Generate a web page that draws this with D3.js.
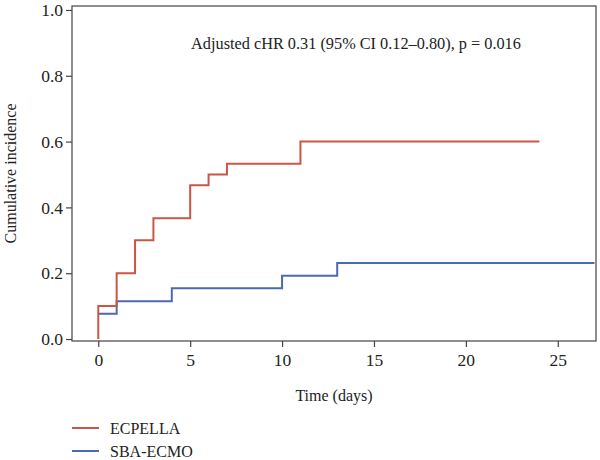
<!DOCTYPE html>
<html>
<head>
<meta charset="utf-8">
<script src="https://cdn.jsdelivr.net/npm/d3@7"></script>
<style>
  body { margin: 0; background: #fff; }
</style>
</head>
<body>
<svg></svg>
<script>
const width = 600
const height = 460

// cumulative incidence, step changes (days)
const ecpellaDays = [0, 0, 1, 2, 3, 5, 6, 7, 11, 24]
const ecpellaInc = [0, 0.1, 0.2, 0.3, 0.367, 0.467, 0.5, 0.533, 0.6, 0.6]
const sbaDays = [0, 1, 4, 10, 13, 27]
const sbaInc = [0.077, 0.115, 0.154, 0.192, 0.231, 0.231]

const xTicks = [0, 5, 10, 15, 20, 25]
const yTicks = [0, 0.2, 0.4, 0.6, 0.8, 1.0]
const groups = ["ECPELLA", "SBA-ECMO"]
const colors = ["#cc5646", "#4c6ab2"]
const note = "Adjusted cHR 0.31 (95% CI 0.12\u20130.80), p = 0.016"

const serif = "Liberation Serif"
const box = {left: 72, right: 596, top: 6, bottom: 341}

const svg = d3.select('svg')
  .attr('width', width)
  .attr('height', height)
  .attr("font-family", serif)

const x = d3.scaleLinear().domain([-1.43, 27.08]).range([box.left, box.right])
const y = d3.scaleLinear().domain([-0.006, 1.012]).range([box.bottom, box.top])

const axisColor = "#444"

// frame
svg.append("rect")
  .attr("x", box.left)
  .attr("y", box.top)
  .attr("width", box.right - box.left)
  .attr("height", box.bottom - box.top)
  .attr("fill", "none")
  .attr("stroke", axisColor)
  .attr("stroke-width", 1.2)

const xAxis = svg.append("g")
  .attr("transform", `translate(0,${box.bottom})`)
  .call(d3.axisBottom(x).tickValues(xTicks).tickSize(6).tickPadding(7).tickSizeOuter(0))
  .attr("font-family", serif)
  .attr("font-size", 17.5)
xAxis.select(".domain").remove()

const yAxis = svg.append("g")
  .attr("transform", `translate(${box.left},0)`)
  .call(d3.axisLeft(y).tickValues(yTicks).tickFormat(d3.format(".1f")).tickSize(6).tickPadding(3).tickSizeOuter(0))
  .attr("font-family", serif)
  .attr("font-size", 17.5)
yAxis.select(".domain").remove()

svg.selectAll(".tick line").attr("stroke", axisColor).attr("stroke-width", 1.2)
svg.selectAll(".tick text").attr("fill", "#222")

// axis titles
svg.append("text")
  .attr("x", (box.left + box.right) / 2)
  .attr("y", 401)
  .attr("text-anchor", "middle")
  .attr("font-size", 16)
  .attr("fill", "#222")
  .text("Time (days)")

svg.append("text")
  .attr("transform", `translate(16,${(box.top + box.bottom) / 2}) rotate(-90)`)
  .attr("text-anchor", "middle")
  .attr("font-size", 16)
  .attr("fill", "#222")
  .text("Cumulative incidence")

svg.append("text")
  .attr("x", 356)
  .attr("y", 49)
  .attr("text-anchor", "middle")
  .attr("font-size", 16.3)
  .attr("fill", "#222")
  .text(note)

// curves
const line = d3.line()
  .x(d => x(d[0]))
  .y(d => y(d[1]))
  .curve(d3.curveStepAfter)

const series = [
  d3.zip(ecpellaDays, ecpellaInc),
  d3.zip(sbaDays, sbaInc)
]

// blue under red
;[1, 0].forEach(i => {
  svg.append("path")
    .datum(series[i])
    .attr("d", line)
    .attr("fill", "none")
    .attr("stroke", colors[i])
    .attr("stroke-width", 2)
})

// legend
const legend = svg.append("g")
  .selectAll("g")
  .data(groups)
  .enter()
  .append("g")
  .attr("transform", (d, i) => `translate(0,${428 + i * 23})`)

legend.append("line")
  .attr("x1", 72)
  .attr("x2", 99)
  .attr("stroke", (d, i) => colors[i])
  .attr("stroke-width", 2)

legend.append("text")
  .attr("x", 110)
  .attr("y", 5.5)
  .attr("font-size", 16)
  .attr("fill", "#222")
  .text(d => d)
</script>
</body>
</html>
